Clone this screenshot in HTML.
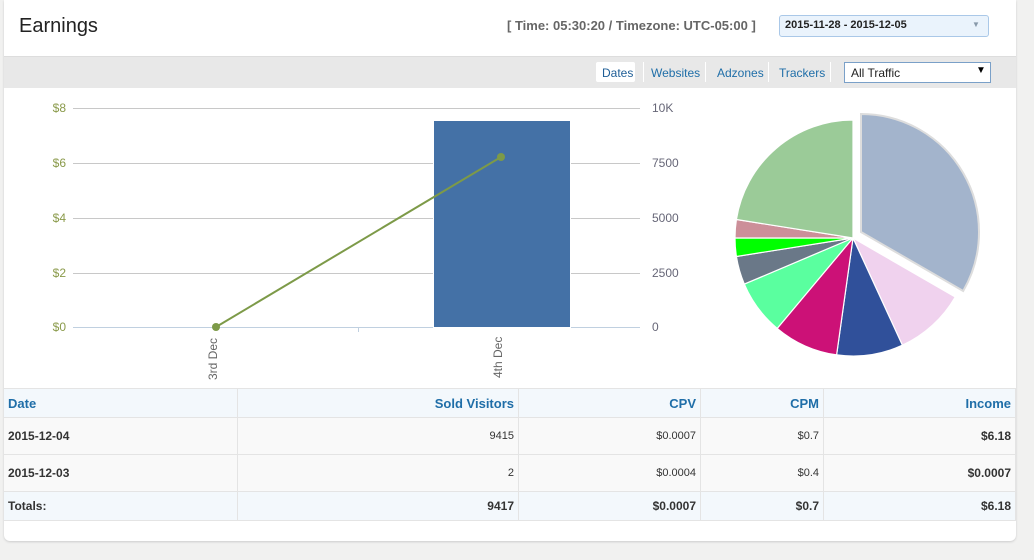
<!DOCTYPE html>
<html><head><style>
body{margin:0;width:1034px;height:560px;background:#f1f1f0;font-family:"Liberation Sans",sans-serif;position:relative;overflow:hidden}
.panel{position:absolute;left:4px;top:0;width:1012px;height:541px;background:#fff;border-radius:0 0 6px 6px;box-shadow:0 1px 2px #ccc}
.hdr{position:absolute;left:0;top:0;width:1012px;height:56px;border-bottom:1px solid #ddd}
.tb{position:absolute;left:0;top:57px;width:1012px;height:31px;background:#e8e8e8}
.t{position:absolute;white-space:nowrap}
table{position:absolute;left:0;top:388px;width:1012px;border-collapse:collapse;font-size:12px}
td{border:1px solid #e4e4e4;padding:0 4px;text-align:right;color:#333}
td:first-child{text-align:left;border-left:none}
tr.h td{background:#f3f8fc;color:#1f6ea8;font-weight:bold;font-size:13px;height:28px}
tr.r td{height:36px;background:#f9f9f9;font-size:11px}
tr.r td:first-child,tr.r td:last-child{font-weight:bold;font-size:12px}
tr.tot td{background:#f3f8fc;font-weight:bold;height:28px}
</style></head><body>
<div class="panel">
<div class="hdr">
<div class="t" style="left:15px;top:15px;font-size:20px;color:#222">Earnings</div>
<div class="t" style="left:503px;top:18px;font-size:13px;color:#666;font-weight:bold">[ <span style="color:#666">Time: 05:30:20 / Timezone: UTC-05:00</span> ]</div>
<div style="position:absolute;left:775px;top:15px;width:208px;height:20px;border:1px solid #aac8e8;border-radius:3px;background:#eaf3fc"></div>
<div class="t" style="left:781px;top:19px;font-size:11px;color:#222;font-weight:bold">2015-11-28 - 2015-12-05</div>
<div class="t" style="left:968px;top:20px;font-size:8px;color:#89a">▼</div>
</div>
<div class="tb">
<div style="position:absolute;left:592px;top:5px;width:39px;height:20px;background:#fff;border-radius:2px"></div>
<div class="t" style="left:598px;top:9px;font-size:12px;color:#1f5e96">Dates</div>
<div class="t" style="left:647px;top:9px;font-size:12px;color:#1f6ea8">Websites</div>
<div class="t" style="left:713px;top:9px;font-size:12px;color:#1f6ea8">Adzones</div>
<div class="t" style="left:775px;top:9px;font-size:12px;color:#1f6ea8">Trackers</div>
<div style="position:absolute;left:639px;top:5px;width:1px;height:20px;background:#fff"></div>
<div style="position:absolute;left:701px;top:5px;width:1px;height:20px;background:#fff"></div>
<div style="position:absolute;left:764px;top:5px;width:1px;height:20px;background:#fff"></div>
<div style="position:absolute;left:826px;top:5px;width:1px;height:20px;background:#fff"></div>
<div style="position:absolute;left:840px;top:5px;width:145px;height:19px;background:#fff;border:1px solid #7aa0c8"></div>
<div class="t" style="left:847px;top:9px;font-size:12px;color:#222">All Traffic</div>
<div class="t" style="left:972px;top:8px;font-size:10px;color:#000">▼</div>
</div>
</div>
<svg style="position:absolute;left:0;top:0" width="1034" height="560" font-family="Liberation Sans" font-size="12">
<g stroke="#c8c8c8">
<line x1="73" y1="108.5" x2="640" y2="108.5"/><line x1="73" y1="163.5" x2="640" y2="163.5"/><line x1="73" y1="218.5" x2="640" y2="218.5"/><line x1="73" y1="273.5" x2="640" y2="273.5"/>
<line x1="73" y1="327.5" x2="640" y2="327.5" stroke="#c0d0e0"/>
<line x1="358.5" y1="327" x2="358.5" y2="332" stroke="#c0d0e0"/>
</g>
<g fill="#8a9a4a" text-anchor="end"><text x="66" y="112">$8</text><text x="66" y="167">$6</text><text x="66" y="222">$4</text><text x="66" y="277">$2</text><text x="66" y="331">$0</text></g>
<g fill="#667" ><text x="652" y="112">10K</text><text x="652" y="167">7500</text><text x="652" y="222">5000</text><text x="652" y="277">2500</text><text x="652" y="331">0</text></g>
<rect x="433.5" y="120.5" width="137" height="207" fill="#4471a6" stroke="#fff"/>
<line x1="216" y1="327" x2="501" y2="157" stroke="#7d9a48" stroke-width="2"/>
<circle cx="216" cy="327" r="4" fill="#7d9a48"/><circle cx="501" cy="157" r="4" fill="#7d9a48"/>
<text transform="translate(217,380) rotate(-90)" fill="#666">3rd Dec</text>
<text transform="translate(502,378) rotate(-90)" fill="#666">4th Dec</text>
<g stroke="#fff" stroke-width="1.2" transform="translate(853,238)">
<path d="M8,-6 L8,-124 A118,118 0 0 1 110.2,53 Z" fill="#a3b4cc" stroke="#ddd" stroke-width="2"/>
<path d="M0,0 L102.2,59 A118,118 0 0 1 49.4,107.2 Z" fill="#f0d2ee"/>
<path d="M0,0 L49.4,107.2 A118,118 0 0 1 -16.4,116.9 Z" fill="#30509a"/>
<path d="M0,0 L-16.4,116.9 A118,118 0 0 1 -75.8,90.4 Z" fill="#cc1177"/>
<path d="M0,0 L-75.8,90.4 A118,118 0 0 1 -108.7,46.1 Z" fill="#5aff9f"/>
<path d="M0,0 L-108.7,46.1 A118,118 0 0 1 -116.6,18.5 Z" fill="#6a7888"/>
<path d="M0,0 L-116.6,18.5 A118,118 0 0 1 -118,0 Z" fill="#00ff00"/>
<path d="M0,0 L-118,0 A118,118 0 0 1 -116.6,-18.5 Z" fill="#cc8f99"/>
<path d="M0,0 L-116.6,-18.5 A118,118 0 0 1 0,-118 Z" fill="#9bcb98"/>
</g>
</svg>
<table style="left:4px">
<tr class="h"><td style="width:225px">Date</td><td style="width:272px">Sold Visitors</td><td style="width:173px">CPV</td><td style="width:114px">CPM</td><td>Income</td></tr>
<tr class="r"><td>2015-12-04</td><td>9415</td><td>$0.0007</td><td>$0.7</td><td>$6.18</td></tr>
<tr class="r" style="background:#f5f5f5"><td>2015-12-03</td><td>2</td><td>$0.0004</td><td>$0.4</td><td>$0.0007</td></tr>
<tr class="tot"><td>Totals:</td><td>9417</td><td>$0.0007</td><td>$0.7</td><td>$6.18</td></tr>
</table>
</body></html>
